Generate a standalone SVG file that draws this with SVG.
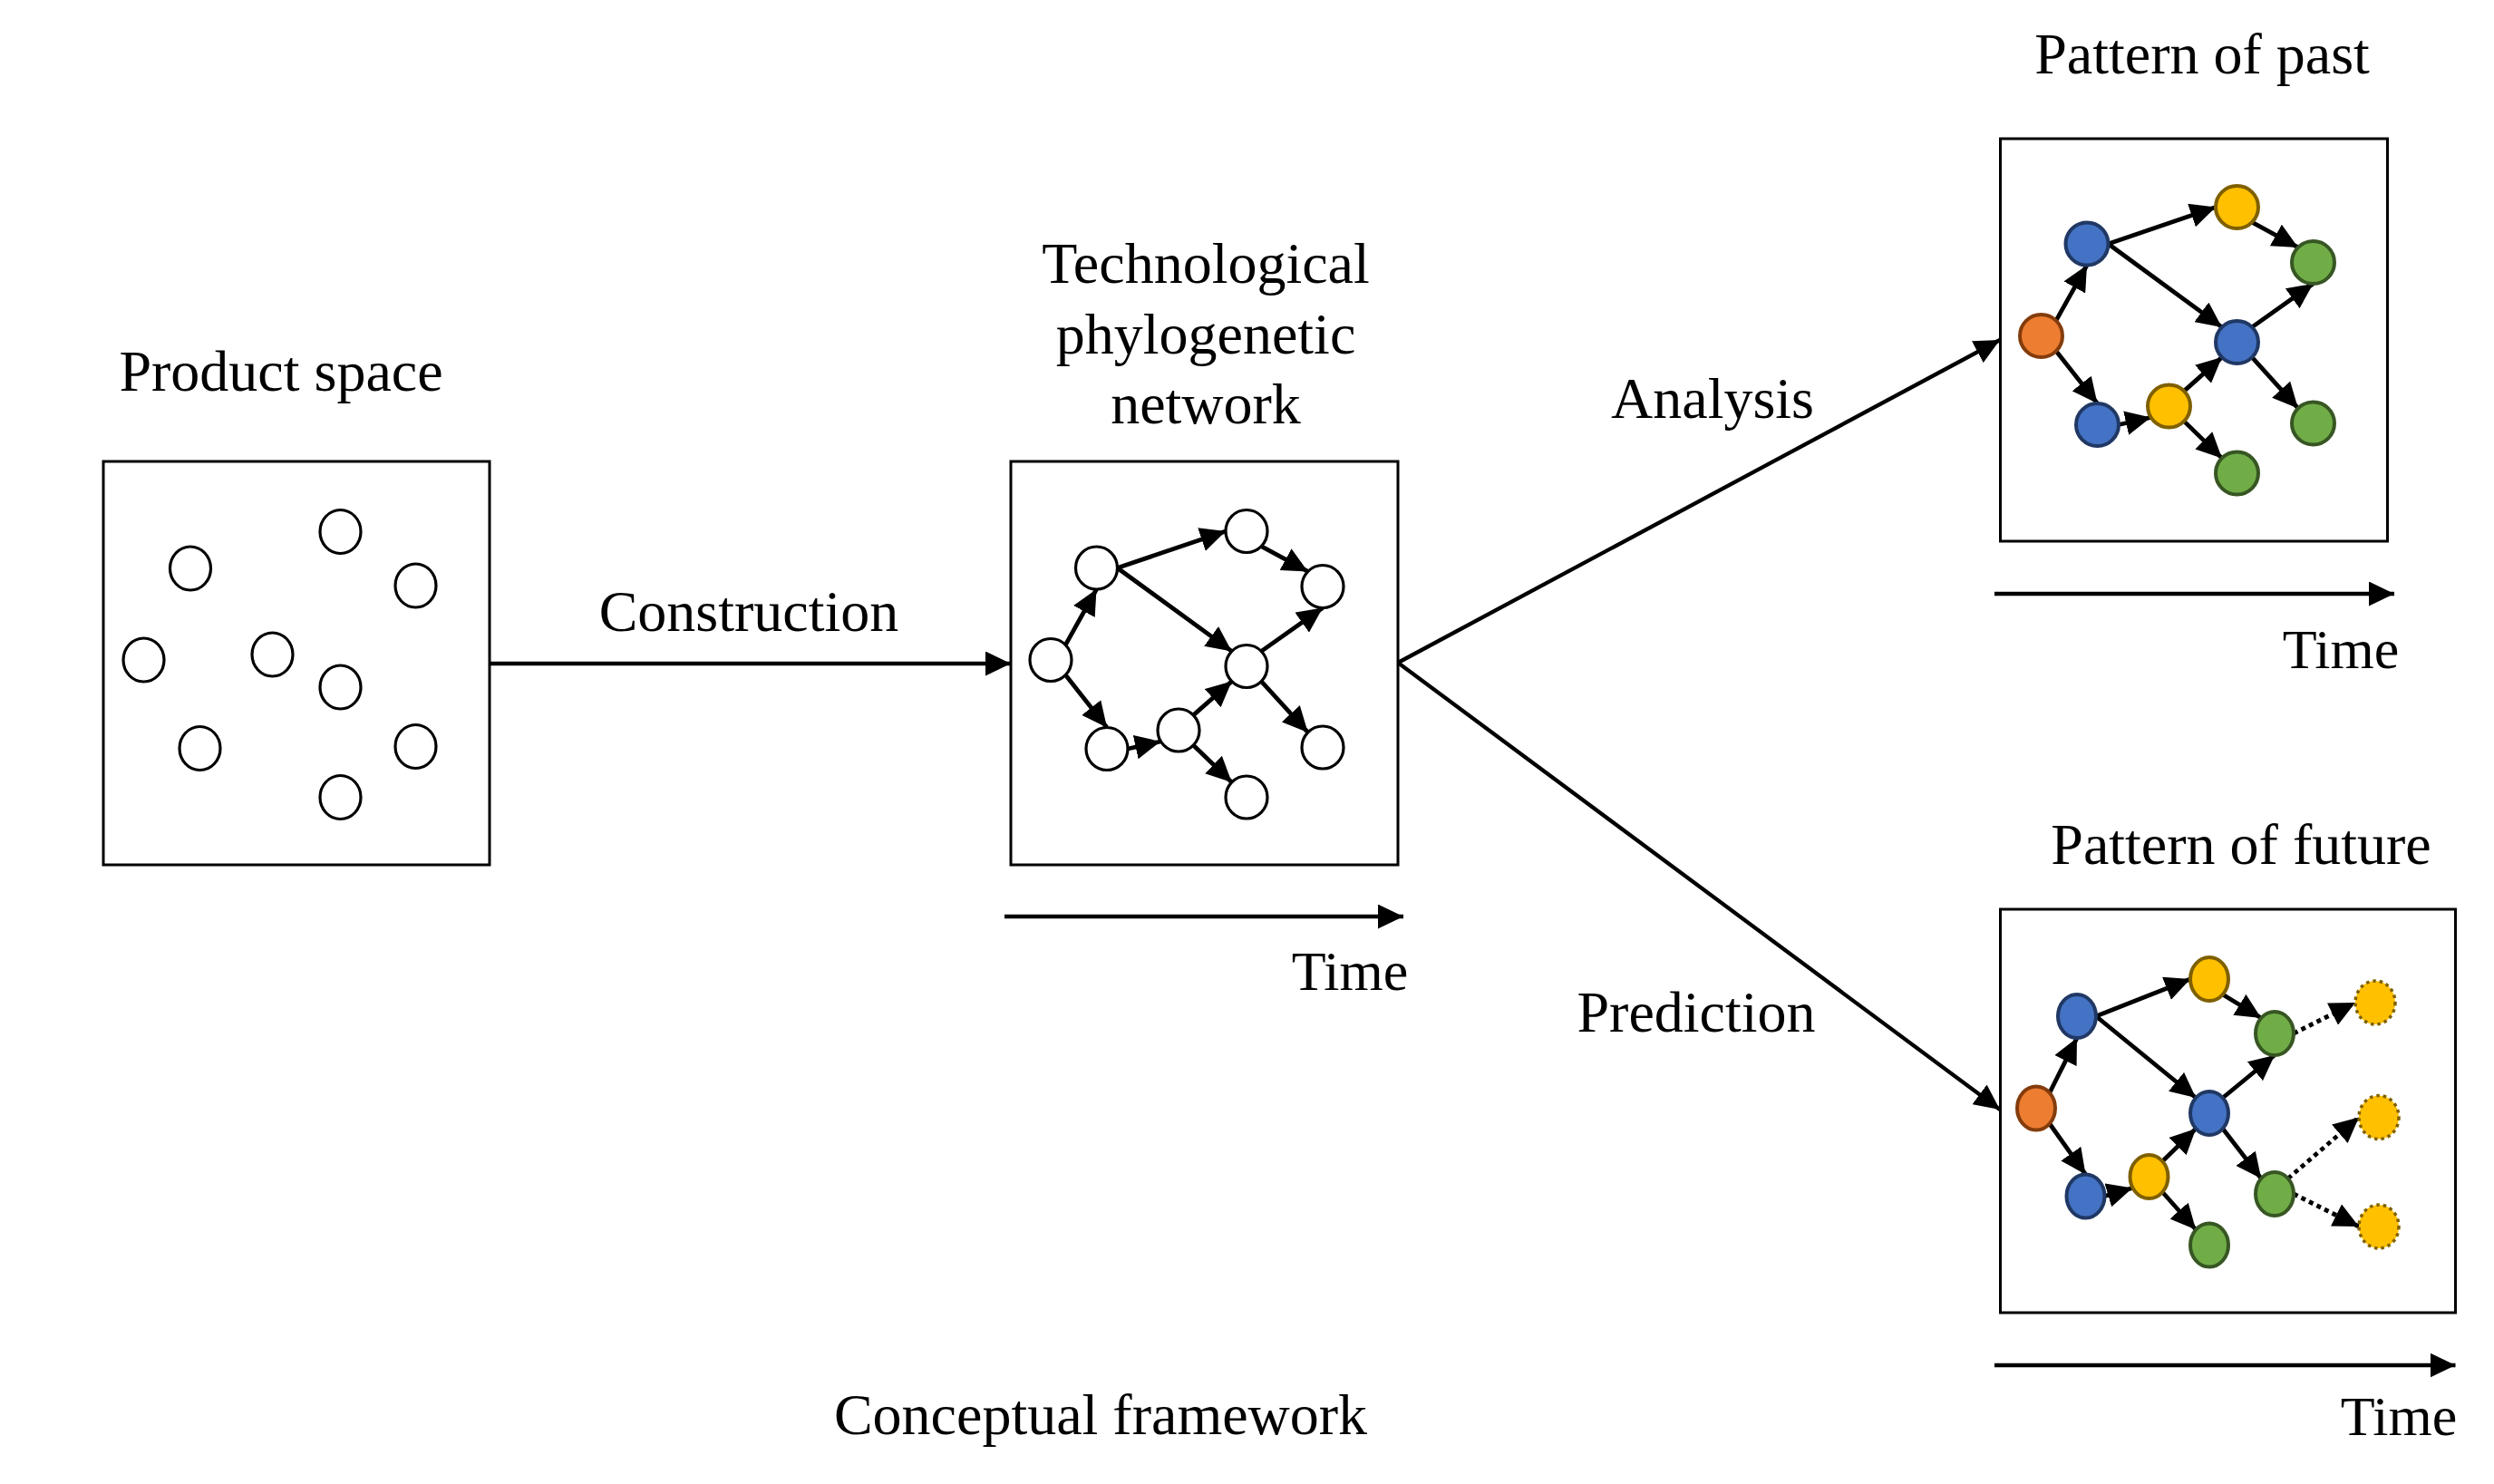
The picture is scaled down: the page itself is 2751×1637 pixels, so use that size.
<svg xmlns="http://www.w3.org/2000/svg" width="2751" height="1637" viewBox="0 0 2751 1637">
<defs>
<style>
.t{font-family:"Liberation Serif","Times New Roman",serif;font-size:64px;fill:#000;text-anchor:middle}
.tm{font-family:"Liberation Serif","Times New Roman",serif;font-size:62px;fill:#000;text-anchor:middle}
.box{fill:#fff;stroke:#000;stroke-width:3}
.wn{fill:#fff;stroke:#000;stroke-width:3.2}
.e{fill:none;stroke:#000;stroke-width:4.8;marker-end:url(#ah)}
.c{fill:none;stroke:#000;stroke-width:4.3;marker-end:url(#ah)}
.d{fill:none;stroke:#000;stroke-width:4.8;stroke-dasharray:5 4.5;marker-end:url(#ah)}
.or{fill:#ED7D31;stroke:#843C0C;stroke-width:4}
.bl{fill:#4472C4;stroke:#203864;stroke-width:4}
.ye{fill:#FFC000;stroke:#7F6000;stroke-width:4}
.gr{fill:#70AD47;stroke:#375623;stroke-width:4}
.fy{fill:#FFC000;stroke:#7F6000;stroke-width:3.5;stroke-dasharray:3.5 4}
</style>
<marker id="ah" markerUnits="userSpaceOnUse" markerWidth="28" markerHeight="27" refX="28" refY="13.5" orient="auto"><path d="M0,0 L28,13.5 L0,27 z" fill="#000"/></marker>
</defs>
<rect width="2751" height="1637" fill="#fff"/>

<g id="labels">
<text class="t" x="310" y="431">Product space</text>
<text class="t" x="826" y="696">Construction</text>
<text class="t" x="1330" y="312">Technological</text>
<text class="t" x="1330" y="390">phylogenetic</text>
<text class="t" x="1330" y="467">network</text>
<text class="t" x="1889" y="461">Analysis</text>
<text class="t" x="1871" y="1138">Prediction</text>
<text class="tm" x="1489" y="1092">Time</text>
<text class="t" x="2429" y="81">Pattern of past</text>
<text class="tm" x="2582" y="737">Time</text>
<text class="t" x="2472" y="953">Pattern of future</text>
<text class="tm" x="2646" y="1583">Time</text>
<text class="t" x="1214" y="1582">Conceptual framework</text>
</g>

<g id="product-space">
<rect class="box" x="114" y="509" width="426" height="445"/>
<ellipse class="wn" cx="210" cy="627" rx="22.5" ry="24"/>
<ellipse class="wn" cx="375.5" cy="586.5" rx="22.5" ry="24"/>
<ellipse class="wn" cx="458.5" cy="646" rx="22.5" ry="24"/>
<ellipse class="wn" cx="158.5" cy="728" rx="22.5" ry="24"/>
<ellipse class="wn" cx="300.5" cy="722" rx="22.5" ry="24"/>
<ellipse class="wn" cx="375.5" cy="758" rx="22.5" ry="24"/>
<ellipse class="wn" cx="220.5" cy="825.5" rx="22.5" ry="24"/>
<ellipse class="wn" cx="458.5" cy="823.5" rx="22.5" ry="24"/>
<ellipse class="wn" cx="375.5" cy="879.5" rx="22.5" ry="24"/>
</g>

<g id="network">
<rect class="box" x="1115" y="509" width="427" height="445"/>
<g id="network-edges">
<path class="e" d="M1175.3,711.4 L1209.5,650"/>
<path class="e" d="M1175.3,744.6 L1221,802.5"/>
<path class="e" d="M1232.5,626.5 L1352,586"/>
<path class="e" d="M1232.5,626.5 L1358.7,718.4"/>
<path class="e" d="M1391.3,602.6 L1442.7,630.4"/>
<path class="e" d="M1391.3,718.4 L1459,670.5"/>
<path class="e" d="M1391.3,751.6 L1442.7,807.9"/>
<path class="e" d="M1244,826 L1280,818"/>
<path class="e" d="M1316.3,788.9 L1358.7,751.6"/>
<path class="e" d="M1316.3,822.1 L1358.7,862.9"/>
</g>
<ellipse class="wn" cx="1159" cy="728" rx="23" ry="23.5"/>
<ellipse class="wn" cx="1209.5" cy="626.5" rx="23" ry="23.5"/>
<ellipse class="wn" cx="1375" cy="586" rx="23" ry="23.5"/>
<ellipse class="wn" cx="1459" cy="647" rx="23" ry="23.5"/>
<ellipse class="wn" cx="1375" cy="735" rx="23" ry="23.5"/>
<ellipse class="wn" cx="1221" cy="826" rx="23" ry="23.5"/>
<ellipse class="wn" cx="1300" cy="805.5" rx="23" ry="23.5"/>
<ellipse class="wn" cx="1459" cy="824.5" rx="23" ry="23.5"/>
<ellipse class="wn" cx="1375" cy="879.5" rx="23" ry="23.5"/>
</g>

<g id="pattern-past">
<rect class="box" x="2206.5" y="153" width="427" height="444"/>
<g id="past-edges">
<path class="e" d="M2267.8,353.9 L2302,292.5"/>
<path class="e" d="M2267.8,387.1 L2313.5,445"/>
<path class="e" d="M2325.5,269 L2444,228.5"/>
<path class="e" d="M2325.5,269 L2450.9,360.9"/>
<path class="e" d="M2484.1,245.1 L2534.9,272.9"/>
<path class="e" d="M2484.1,360.9 L2551.5,313"/>
<path class="e" d="M2484.1,394.1 L2534.9,450.4"/>
<path class="e" d="M2337,468.5 L2372.5,460.5"/>
<path class="e" d="M2409.1,431.4 L2450.9,394.1"/>
<path class="e" d="M2409.1,464.6 L2450.9,505.4"/>
</g>
<ellipse class="or" cx="2251.5" cy="370.5" rx="23.5" ry="23.5"/>
<ellipse class="bl" cx="2302" cy="269" rx="23.5" ry="23.5"/>
<ellipse class="ye" cx="2467.5" cy="228.5" rx="23.5" ry="23.5"/>
<ellipse class="gr" cx="2551.5" cy="289.5" rx="23.5" ry="23.5"/>
<ellipse class="bl" cx="2467.5" cy="377.5" rx="23.5" ry="23.5"/>
<ellipse class="bl" cx="2313.5" cy="468.5" rx="23.5" ry="23.5"/>
<ellipse class="ye" cx="2392.5" cy="448" rx="23.5" ry="23.5"/>
<ellipse class="gr" cx="2551.5" cy="467" rx="23.5" ry="23.5"/>
<ellipse class="gr" cx="2467.5" cy="522" rx="23.5" ry="23.5"/>
</g>

<g id="pattern-future">
<rect class="box" x="2206.5" y="1003" width="502" height="445"/>
<g id="future-edges">
<path class="e" d="M2260.8,1205.5 L2291,1145"/>
<path class="e" d="M2260.8,1239.5 L2300.5,1295.5"/>
<path class="e" d="M2312,1121 L2416,1080"/>
<path class="e" d="M2312,1121 L2422.2,1211"/>
<path class="e" d="M2451.8,1097 L2494.2,1123"/>
<path class="e" d="M2451.8,1211 L2509,1164"/>
<path class="e" d="M2451.8,1245 L2494.2,1300"/>
<path class="e" d="M2321.5,1319.5 L2352.2,1310.5"/>
<path class="e" d="M2385.3,1281 L2422.2,1245"/>
<path class="e" d="M2385.3,1315 L2422.2,1356.5"/>
<path class="d" d="M2530,1140 L2598,1106"/>
<path class="d" d="M2523.8,1300 L2602,1232.5"/>
<path class="d" d="M2530,1317 L2602,1353"/>
</g>
<ellipse class="or" cx="2246" cy="1222.5" rx="21" ry="24"/>
<ellipse class="bl" cx="2291" cy="1121" rx="21" ry="24"/>
<ellipse class="ye" cx="2437" cy="1080" rx="21" ry="24"/>
<ellipse class="gr" cx="2509" cy="1140" rx="21" ry="24"/>
<ellipse class="bl" cx="2437" cy="1228" rx="21" ry="24"/>
<ellipse class="bl" cx="2300.5" cy="1319.5" rx="21" ry="24"/>
<ellipse class="ye" cx="2370.5" cy="1298" rx="21" ry="24"/>
<ellipse class="gr" cx="2509" cy="1317" rx="21" ry="24"/>
<ellipse class="gr" cx="2437" cy="1373.5" rx="21" ry="24"/>
<ellipse class="fy" cx="2620" cy="1106" rx="22" ry="24"/>
<ellipse class="fy" cx="2624" cy="1232.5" rx="22" ry="24"/>
<ellipse class="fy" cx="2624" cy="1353" rx="22" ry="24"/>
</g>

<g id="connectors">
<path class="c" d="M540,732 L1115,732"/>
<path class="c" d="M1542,731 L2206,375"/>
<path class="c" d="M1542,731 L2206,1224"/>
<path class="c" d="M1108,1011 L1548,1011"/>
<path class="c" d="M2200,655 L2641,655"/>
<path class="c" d="M2200,1506 L2708.5,1506"/>
</g>
</svg>
